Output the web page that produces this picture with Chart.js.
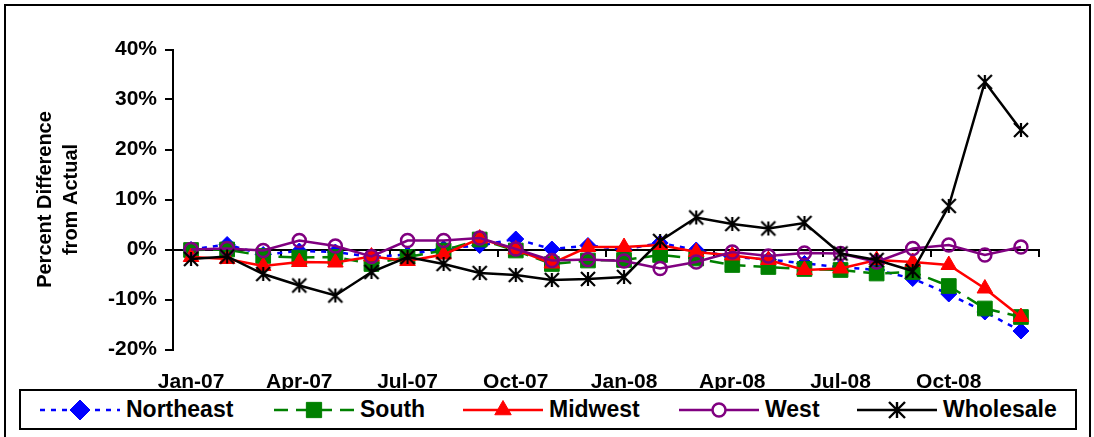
<!DOCTYPE html>
<html>
<head>
<meta charset="utf-8">
<script src="https://cdn.jsdelivr.net/npm/chart.js@4/dist/chart.umd.min.js"></script>
<style>
html,body{margin:0;padding:0;background:#fff;}
#wrap{position:relative;width:1094px;height:437px;overflow:hidden;font-family:"Liberation Sans",Arial,sans-serif;}
#frame{position:absolute;left:4px;top:4px;width:1087px;height:450px;border:2px solid #000;box-sizing:border-box;}
#chart{position:absolute;left:0;top:0;}
#legend{position:absolute;left:19px;top:389px;width:1058px;height:41px;border:2px solid #000;box-sizing:border-box;background:#fff;}
.item{position:absolute;top:0;height:37px;display:flex;align-items:center;white-space:nowrap;}
.item span{font-weight:bold;font-size:23px;color:#000;margin-left:6px;line-height:1;}
.item canvas{display:block;}
</style>
</head>
<body>
<div id="wrap">
  <div id="frame"></div>
  <canvas id="chart" width="1094" height="437"></canvas>
  <div id="legend"></div>
</div>
<script>
// ---- data ----
const months = ['Jan-07','Feb-07','Mar-07','Apr-07','May-07','Jun-07','Jul-07','Aug-07','Sep-07','Oct-07','Nov-07','Dec-07',
                'Jan-08','Feb-08','Mar-08','Apr-08','May-08','Jun-08','Jul-08','Aug-08','Sep-08','Oct-08','Nov-08','Dec-08'];
const northeast = [0.0, 1.0, -1.0, -0.3, -0.5, -1.5, -1.0, 0.2, 0.8, 2.1, 0.1, 0.8, 0.0, 1.3, -0.1, -1.5, -2.0, -2.8, -3.5, -4.1, -5.8, -8.9, -12.5, -16.3];
const south     = [-0.1, 0.0, -1.3, -1.6, -1.5, -2.9, -1.5, -0.2, 2.0, -0.2, -2.9, -2.2, -2.1, -1.1, -1.8, -3.1, -3.5, -3.9, -4.1, -4.8, -4.5, -7.3, -11.8, -13.5];
const midwest   = [-1.5, -1.9, -3.3, -2.5, -2.6, -1.4, -2.3, -1.0, 2.2, 0.0, -2.8, 0.5, 0.5, 0.9, -0.5, -1.2, -2.1, -4.1, -3.8, -2.1, -2.5, -3.1, -7.8, -13.5];
const west      = [0.0, 0.2, -0.2, 1.8, 0.7, -1.4, 1.8, 1.8, 2.3, 0.1, -2.2, -2.0, -2.3, -3.8, -2.5, -0.5, -1.3, -0.7, -0.8, -2.5, 0.2, 0.9, -1.1, 0.5];
const wholesale = [-1.9, -1.4, -4.9, -7.2, -9.2, -4.5, -1.5, -2.9, -4.7, -5.1, -6.1, -5.9, -5.5, 1.7, 6.4, 5.1, 4.2, 5.3, -0.8, -2.1, -4.3, 8.7, 33.5, 23.9];
const seriesNames = ['Northeast','South','Midwest','West','Wholesale'];
const yMin = -20, yMax = 40, yStep = 10;
const tickEvery = 3;

const FONT = '"Liberation Sans", Arial, sans-serif';

function makeStar(size, r, color, lw){
  const c = document.createElement('canvas');
  c.width = size; c.height = size;
  const g = c.getContext('2d');
  g.strokeStyle = color; g.lineWidth = lw;
  const m = size/2;
  g.beginPath();
  g.moveTo(m, m - r); g.lineTo(m, m + r);
  g.moveTo(m - r, m - r); g.lineTo(m + r, m + r);
  g.moveTo(m + r, m - r); g.lineTo(m - r, m + r);
  g.stroke();
  return c;
}
const starImg = makeStar(18, 7, '#000', 2.2);
const starImgLegend = makeStar(20, 8, '#000', 2.4);

const datasets = [
  {label: seriesNames[0], data: northeast, borderColor:'#0000FF', backgroundColor:'#0000FF', borderWidth:2.5, borderDash:[5,6],
   pointStyle:'rectRot', pointRadius:8, pointBorderWidth:1, pointBackgroundColor:'#0000FF', pointBorderColor:'#0000FF', order:5, _legendRadius:10},
  {label: seriesNames[1], data: south, borderColor:'#008000', backgroundColor:'#008000', borderWidth:2.5, borderDash:[14,8],
   pointStyle:'rect', pointRadius:10.4, pointBorderWidth:1, pointBackgroundColor:'#008000', pointBorderColor:'#008000', order:4, _legendRadius:10.8},
  {label: seriesNames[2], data: midwest, borderColor:'#FF0000', backgroundColor:'#FF0000', borderWidth:2.5,
   pointStyle:'triangle', pointRadius:9, pointBorderWidth:1, pointBackgroundColor:'#FF0000', pointBorderColor:'#FF0000', order:3, _legendRadius:9.5},
  {label: seriesNames[3], data: west, borderColor:'#800080', backgroundColor:'rgba(0,0,0,0)', borderWidth:2.5,
   pointStyle:'circle', pointRadius:6.5, pointBorderWidth:2.5, pointBackgroundColor:'rgba(0,0,0,0)', pointBorderColor:'#800080', order:2, _legendRadius:6.5},
  {label: seriesNames[4], data: wholesale, borderColor:'#000000', backgroundColor:'#000000', borderWidth:2.5,
   pointStyle: starImg, pointRadius:8, pointBorderWidth:1, pointBackgroundColor:'#000', pointBorderColor:'#000', order:1, _legendImg: starImgLegend}
];
datasets.forEach(d => { d.tension = 0; d.fill = false; d.xAxisID = 'x'; d.yAxisID = 'y'; d.pointHoverRadius = d.pointRadius; });

const chart = new Chart(document.getElementById('chart'), {
  type: 'line',
  data: { labels: months, datasets },
  options: {
    responsive: false,
    animation: false,
    devicePixelRatio: 1,
    events: [],
    layout: { padding: { top: 49.5, left: 0, right: 55, bottom: 0 } },
    plugins: { legend: { display: false }, tooltip: { enabled: false } },
    scales: {
      y: {
        min: yMin, max: yMax,
        ticks: { stepSize: yStep, callback: v => v + '%', color:'#000', padding: 8,
                 font: { family: FONT, size: 21, weight: 'bold' } },
        grid: { drawOnChartArea: false, drawTicks: true, tickLength: 8, tickColor:'#000', tickWidth: 2, lineWidth: 2 },
        border: { display: true, color:'#000', width: 2 },
        title: { display: true, text: ['Percent Difference', 'from Actual'], color:'#000',
                 font: { family: FONT, size: 20, weight: 'bold', lineHeight: 1.33 },
                 padding: { top: 32, bottom: 0 } },
        afterFit(s){ s.width = 173; }
      },
      x: {
        type: 'category', offset: true,
        grid: { display: false, drawTicks: false },
        border: { display: false },
        ticks: { autoSkip: false, maxRotation: 0, minRotation: 0, padding: 20, color:'#000',
                 font: { family: FONT, size: 21, weight: 'bold' },
                 callback: (v, i) => (i % tickEvery === 0 ? months[i] : '') },
        afterFit(s){ s.height = 87.5; }
      },
      x0: {
        type: 'category', axis: 'x', position: { y: 0 }, offset: true,
        grid: { offset: true, drawOnChartArea: false, drawTicks: true, tickLength: 6, lineWidth: 2, tickWidth: 2,
                tickColor: c => ((c.index === undefined || c.index % tickEvery === 0) ? '#000' : 'rgba(0,0,0,0)') },
        border: { display: true, color:'#000', width: 2 },
        ticks: { display: false }
      }
    }
  }
});

// ---- HTML legend, samples drawn with Chart.js point helper ----
const legendLefts = [19, 253, 442, 658, 836];
const legend = document.getElementById('legend');
const drawPoint = Chart.helpers && Chart.helpers.drawPoint;
datasets.forEach((d, i) => {
  const item = document.createElement('div');
  item.className = 'item';
  item.style.left = legendLefts[i] + 'px';
  const cv = document.createElement('canvas');
  cv.width = 80; cv.height = 30;
  const g = cv.getContext('2d');
  g.strokeStyle = d.borderColor; g.lineWidth = d.borderWidth;
  g.setLineDash(d.borderDash || []);
  g.beginPath(); g.moveTo(0, 15); g.lineTo(80, 15); g.stroke();
  g.setLineDash([]);
  if (d._legendImg) {
    g.drawImage(d._legendImg, 40 - d._legendImg.width/2, 15 - d._legendImg.height/2);
  } else if (drawPoint) {
    g.fillStyle = d.pointStyle === 'circle' ? '#fff' : d.pointBackgroundColor;
    g.strokeStyle = d.pointBorderColor;
    g.lineWidth = d.pointBorderWidth;
    drawPoint(g, { pointStyle: d.pointStyle, radius: d._legendRadius, rotation: 0, borderWidth: d.pointBorderWidth }, 40, 15);
  }
  item.appendChild(cv);
  const s = document.createElement('span');
  s.textContent = d.label;
  item.appendChild(s);
  legend.appendChild(item);
});
</script>
</body>
</html>
